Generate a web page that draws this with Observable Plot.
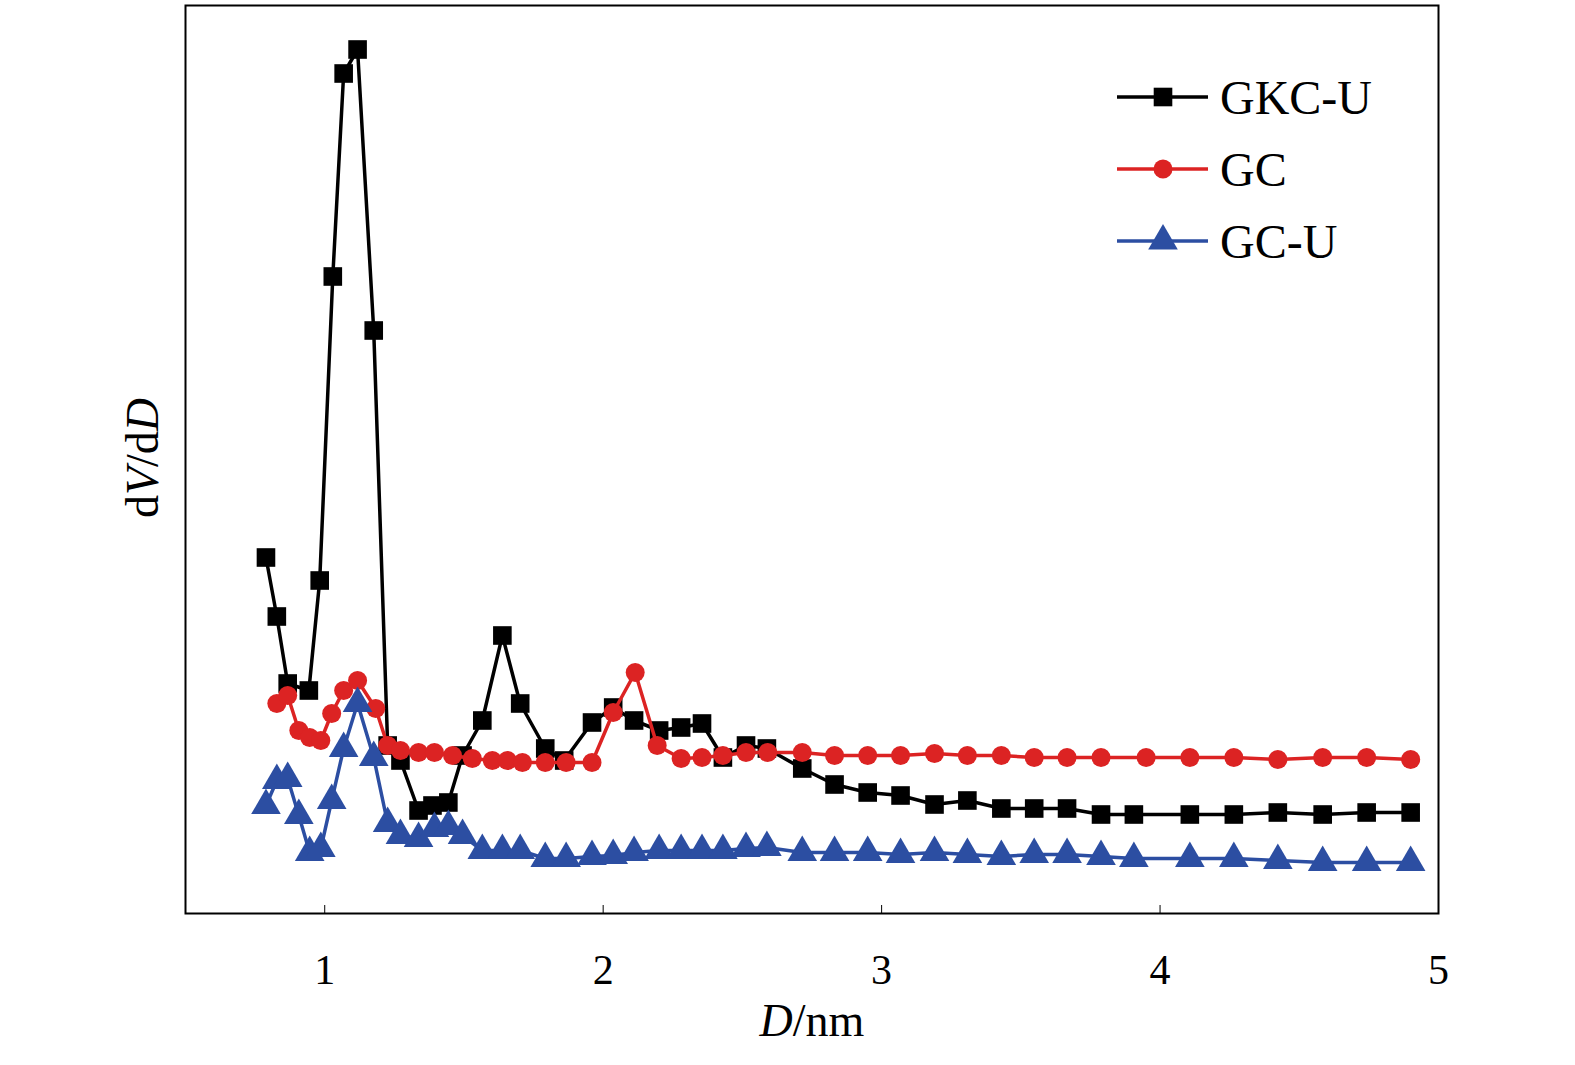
<!DOCTYPE html>
<html><head><meta charset="utf-8">
<script src="https://cdn.jsdelivr.net/npm/d3@7"></script>
<script src="https://cdn.jsdelivr.net/npm/@observablehq/plot@0.6"></script>
<style>body{margin:0;background:#fff}#wrap{position:relative;width:1575px;height:1065px}
svg text{font-family:"Liberation Serif","DejaVu Serif",serif}</style>
</head><body><div id="wrap"></div>
<script>
const gkcX=[0.789,0.828,0.867,0.943,0.982,1.029,1.068,1.118,1.176,1.226,1.272,1.337,1.387,1.444,1.495,1.566,1.638,1.702,1.792,1.860,1.960,2.036,2.111,2.201,2.280,2.355,2.430,2.513,2.588,2.715,2.831,2.950,3.068,3.190,3.308,3.430,3.548,3.666,3.788,3.906,4.107,4.265,4.423,4.584,4.742,4.900];
const gkcY=[35.6,29.7,23.0,22.3,33.3,63.7,84.0,86.4,58.3,16.8,15.3,10.3,10.8,11.1,15.8,19.3,27.8,21.0,16.5,15.3,19.1,20.6,19.3,18.3,18.6,19.0,15.6,16.8,16.5,14.5,12.9,12.1,11.8,10.9,11.3,10.5,10.5,10.5,9.9,9.9,9.9,9.9,10.1,9.9,10.1,10.1];
const gcX=[0.828,0.867,0.907,0.946,0.986,1.025,1.068,1.118,1.183,1.226,1.272,1.337,1.394,1.459,1.530,1.602,1.656,1.710,1.792,1.867,1.960,2.036,2.115,2.194,2.280,2.355,2.430,2.513,2.591,2.715,2.831,2.950,3.068,3.190,3.308,3.430,3.548,3.666,3.788,3.950,4.107,4.265,4.423,4.584,4.742,4.900];
const gcY=[21.0,21.8,18.3,17.6,17.3,20.0,22.3,23.3,20.5,16.8,16.3,16.1,16.1,15.8,15.5,15.3,15.3,15.1,15.1,15.1,15.1,20.1,24.1,16.8,15.5,15.6,15.8,16.1,16.1,16.1,15.8,15.8,15.8,16.0,15.8,15.8,15.6,15.6,15.6,15.6,15.6,15.6,15.4,15.6,15.6,15.4];
const gcuX=[0.789,0.828,0.867,0.907,0.946,0.986,1.025,1.068,1.118,1.176,1.226,1.272,1.337,1.394,1.444,1.495,1.566,1.638,1.702,1.792,1.867,1.960,2.036,2.111,2.201,2.280,2.355,2.430,2.513,2.588,2.715,2.831,2.950,3.068,3.190,3.308,3.430,3.548,3.666,3.788,3.906,4.107,4.265,4.423,4.584,4.742,4.900];
const gcuY=[10.8,13.3,13.5,9.8,6.1,6.5,11.3,16.5,21.0,15.6,9.0,7.8,7.5,8.5,8.7,7.8,6.3,6.3,6.3,5.5,5.5,5.7,5.8,6.1,6.3,6.3,6.3,6.3,6.5,6.6,6.1,6.1,6.1,5.9,6.1,5.9,5.7,5.9,5.9,5.7,5.5,5.5,5.5,5.3,5.1,5.1,5.1];
const xTicks=[1,2,3,4,5];
const series=[
 {name:"GKC-U",x:gkcX,y:gkcY,color:"#000000",symbol:"square",r:10.5},
 {name:"GC",x:gcX,y:gcY,color:"#dc2323",symbol:"circle",r:9.5},
 {name:"GC-U",x:gcuX,y:gcuY,color:"#2c4ea2",symbol:"triangle",r:11}];
const rows=s=>s.x.map((x,i)=>({x,y:s.y[i]}));
const marks=[];
for(const s of series){
  marks.push(Plot.line(rows(s),{x:"x",y:"y",stroke:s.color,strokeWidth:3.5}));
  marks.push(Plot.dot(rows(s),{x:"x",y:"y",fill:s.color,symbol:s.symbol,r:s.r}));
}
marks.push(Plot.frame({stroke:"#000",strokeWidth:2}));
const chart=Plot.plot({width:1575,height:1065,marginLeft:185,marginRight:137,marginTop:5,marginBottom:152,
 x:{domain:[0.5,5],ticks:xTicks,tickSize:-8,tickFormat:d=>d,label:null},
 y:{domain:[0,90.8],axis:null},
 style:{fontSize:"42px",fontFamily:"Liberation Serif, serif",background:"#fff",overflow:"visible"},
 marks});
chart.querySelectorAll("g[aria-label='x-axis tick label'] text").forEach(t=>t.setAttribute("dy","0.75em"));
document.getElementById("wrap").appendChild(chart);
const svg=d3.select(chart);
svg.append("text").attr("x",812).attr("y",1036).attr("text-anchor","middle").attr("font-size",46)
 .html('<tspan font-style="italic">D</tspan>/nm');
svg.append("text").attr("transform","translate(158,458) rotate(-90)").attr("text-anchor","middle").attr("font-size",46)
 .html('d<tspan font-style="italic">V</tspan>/d<tspan font-style="italic">D</tspan>');
const legY=[97,169,241];
series.forEach((s,i)=>{
  const g=svg.append("g");
  g.append("line").attr("x1",1117).attr("x2",1208).attr("y1",legY[i]).attr("y2",legY[i]).attr("stroke",s.color).attr("stroke-width",3.5);
  g.append("path").attr("transform",`translate(1163,${legY[i]})`).attr("fill",s.color)
   .attr("d",d3.symbol(s.symbol==="square"?d3.symbolSquare:s.symbol==="circle"?d3.symbolCircle:d3.symbolTriangle, Math.PI*s.r*s.r)());
  g.append("text").attr("x",1220).attr("y",legY[i]).attr("dy","0.35em").attr("text-anchor","start").attr("font-size",48).text(s.name);
});
</script></body></html>
